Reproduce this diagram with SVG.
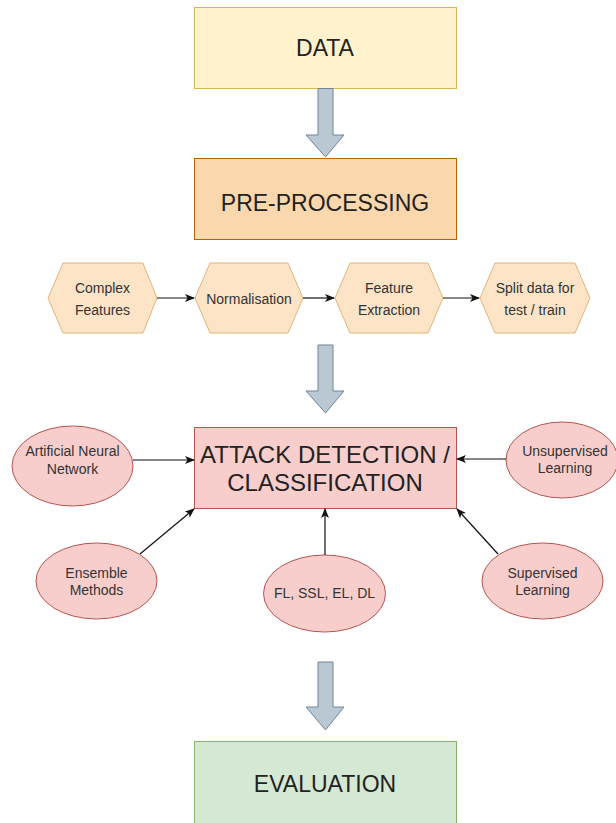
<svg xmlns="http://www.w3.org/2000/svg" width="616" height="823" viewBox="0 0 616 823">
<defs>
<style>
text{font-family:"Liberation Sans",Arial,sans-serif;fill:#222;text-anchor:middle}
.big{font-size:23px}
.sm{font-size:14px;fill:#333}
.hex{fill:#fde4c6;stroke:#dfb77a;stroke-width:1}
.ell{fill:#f8cecc;stroke:#b85450;stroke-width:1}
.blk{fill:#bac8d3;stroke:#6f8696;stroke-width:1}
.con{stroke:#111;stroke-width:1.2;fill:none;marker-end:url(#ah)}
</style>
<marker id="ah" markerWidth="10" markerHeight="8" refX="9" refY="4" orient="auto" markerUnits="userSpaceOnUse">
<path d="M0,0 L10,4 L0,8 L2.5,4 Z" fill="#111"/>
</marker>
</defs>
<rect width="616" height="823" fill="#fff"/>

<g id="data">
<rect x="194.5" y="7.5" width="262" height="81" fill="#fff2cc" stroke="#d6b656"/>
<text class="big" x="325" y="56">DATA</text>
</g>
<g id="arrow1">
<path class="blk" d="M318,88.5 H333 V135 H344 L325.5,157 L306,135 H318 Z"/>
</g>
<g id="preprocessing">
<rect x="194.5" y="158.5" width="262" height="81" fill="#fad7ac" stroke="#b46504"/>
<text class="big" x="325" y="211">PRE-PROCESSING</text>
</g>

<g id="hex1">
<polygon class="hex" points="48,298 63,263 143,263 157,298 143,333 63,333"/>
<text class="sm" x="102.5" y="293">Complex</text>
<text class="sm" x="102.5" y="315">Features</text>
</g>
<g id="hex2">
<polygon class="hex" points="195,298 210,263 288,263 303,298 288,333 210,333"/>
<text class="sm" x="249" y="304">Normalisation</text>
</g>
<g id="hex3">
<polygon class="hex" points="335,298 350,263 428,263 443,298 428,333 350,333"/>
<text class="sm" x="389" y="293">Feature</text>
<text class="sm" x="389" y="315">Extraction</text>
</g>
<g id="hex4">
<polygon class="hex" points="480,298 495,263 575,263 590,298 575,333 495,333"/>
<text class="sm" x="535" y="293">Split data for</text>
<text class="sm" x="535" y="315">test / train</text>
</g>

<g id="arrow2">
<path class="blk" d="M318,345 H333 V391 H344 L325.5,413 L306,391 H318 Z"/>
</g>

<g id="attack">
<rect x="194.5" y="427.5" width="262" height="81" fill="#f8cecc" stroke="#b85450"/>
<text class="big" x="325" y="463" style="font-size:24px">ATTACK DETECTION /</text>
<text class="big" x="325" y="491" style="font-size:24px">CLASSIFICATION</text>
</g>

<g id="ann">
<ellipse class="ell" cx="72.5" cy="466" rx="60.5" ry="40"/>
<text class="sm" x="72.5" y="456">Artificial Neural</text>
<text class="sm" x="72.5" y="474">Network</text>
</g>
<g id="unsupervised">
<ellipse class="ell" cx="562" cy="460" rx="56" ry="38"/>
<text class="sm" x="565" y="456">Unsupervised</text>
<text class="sm" x="565" y="473">Learning</text>
</g>
<g id="ensemble">
<ellipse class="ell" cx="96.5" cy="581" rx="60.5" ry="38"/>
<text class="sm" x="96.5" y="578">Ensemble</text>
<text class="sm" x="96.5" y="595">Methods</text>
</g>
<g id="fl">
<ellipse class="ell" cx="324.5" cy="593.5" rx="61" ry="38.5"/>
<text class="sm" x="324.5" y="598">FL, SSL, EL, DL</text>
</g>
<g id="supervised">
<ellipse class="ell" cx="542.5" cy="581" rx="60.5" ry="38"/>
<text class="sm" x="542.5" y="578">Supervised</text>
<text class="sm" x="542.5" y="595">Learning</text>
</g>

<g id="arrow3">
<path class="blk" d="M318,662 H333 V707 H344 L325.5,730 L306,707 H318 Z"/>
</g>
<g id="evaluation">
<rect x="194.5" y="741.5" width="262" height="82" fill="#d5e8d4" stroke="#82b366"/>
<text class="big" x="325" y="792">EVALUATION</text>
</g>

<g id="connectors">
<path class="con" d="M157,298 H194"/>
<path class="con" d="M303,298 H334"/>
<path class="con" d="M443,298 H479"/>
<path class="con" d="M133,460 H194"/>
<path class="con" d="M506,459 H457"/>
<path class="con" d="M140,554 L194,509"/>
<path class="con" d="M325,555 V509"/>
<path class="con" d="M498,554 L457,509"/>
</g>
</svg>
